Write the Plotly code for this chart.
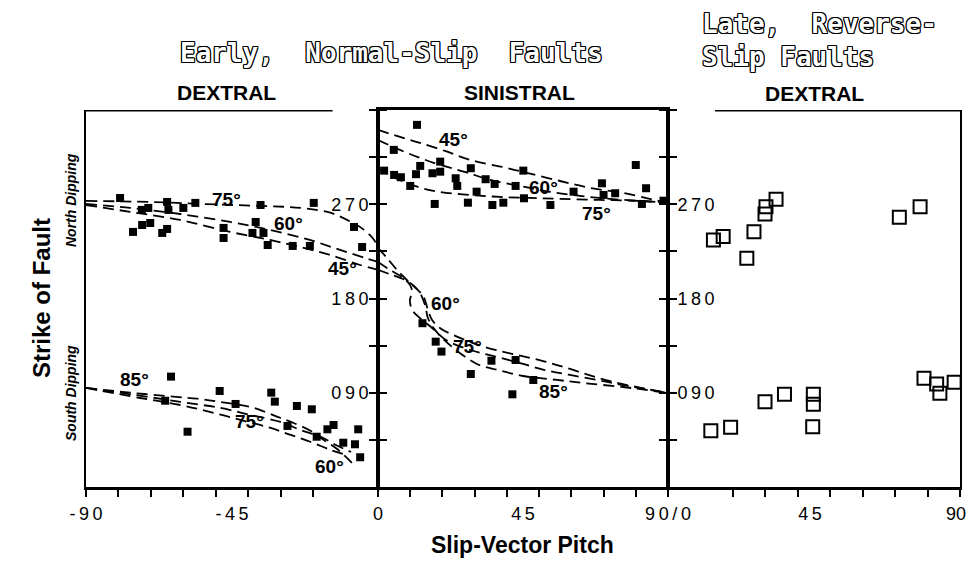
import plotly.graph_objects as go

# ---------------- data ----------------
# Early normal-slip faults, DEXTRAL panel (pitch -90..0)
left_north_x = [-79.5, -72.8, -70.8, -65, -64.6, -60, -56.3, -36.2, -19.8, -75.5, -72.7, -70.2,
                -66.5, -65, -47.6, -47.6, -37.7, -38.7, -35.3, -34, -26.3, -21, -7.4, -4.9]
left_north_y = [276, 264.6, 266.5, 272.2, 264.6, 266.5, 271.3, 269.3, 271.3, 243.6, 250.2, 252.1,
                242.6, 246.4, 247.4, 237.8, 253.1, 242.6, 242.6, 231.1, 230.2, 230.2, 248.3, 229.2]
left_south_x = [-63.8, -58.7, -65.6, -48.8, -43.9, -32.9, -31.8, -25, -20.4, -27.9, -18.9, -15.6,
                -13.7, -10.7, -7.1, -6.1, -5.5]
left_south_y = [105.4, 52.8, 82.4, 91.7, 79.3, 90.1, 81.5, 77.4, 74.2, 58.3, 48, 55.1,
                59.2, 42.3, 40.8, 55.1, 28.4]

# Early normal-slip faults, SINISTRAL panel (pitch 0..90)
mid_north_x = [12.1, 4.9, 1.9, 5.0, 7.1, 10, 11.8, 13.1, 16.9, 19.3, 19.3, 17.6, 24.1, 24.6, 27.9,
               28.8, 30.6, 33.4, 36.2, 35.5, 38.9, 42.7, 45.1, 45.3, 53.5, 60.7, 69.5, 70, 73.6,
               80, 83.2, 81.9, 88.6]
mid_north_y = [345.8, 321.9, 302.1, 298, 295.8, 287.5, 298.7, 306.6, 299.6, 301.1, 310.7, 270.3,
               294.8, 287.5, 271.5, 304.4, 282, 293.9, 289.4, 269.3, 271.5, 287.5, 302.1, 275.7,
               269.3, 282, 290, 278.9, 280.5, 307.5, 285.3, 270.3, 273.4]
mid_south_x = [13.8, 17.9, 19.7, 28.8, 35.2, 42.7, 48.2, 41.7]
mid_south_y = [156.4, 138.8, 129.3, 107.9, 120.6, 121.3, 102.2, 88.5]

# Late reverse-slip faults, DEXTRAL panel (pitch 0..90)
rev_x = [14, 17, 24.3, 26.5, 29.9, 30.2, 33.3, 71.3, 77.7, 13.2, 19.3, 29.9, 35.9, 44.8, 44.8,
         44.6, 78.9, 82.8, 83.8, 88.2]
rev_y = [235.9, 239.1, 218.4, 243.8, 260.7, 267.7, 274.8, 257.6, 267.7, 53.8, 57, 81.5, 88.5,
         88.5, 79, 57.6, 103.8, 98.4, 89.5, 100]

# theoretical curves
cl75_x = [-90, -70.2, -54.7, -36.2, -23.8, -14.5, -8.3, -4.3, -1.2, 0]
cl75_y = [273.2, 272.2, 270.3, 268.4, 266.5, 261.7, 253.1, 245.5, 235.9, 228.3]
cl60_x = [-90, -76.4, -61, -45.6, -33.3, -21, -11.7, -4, 0]
cl60_y = [270.3, 266.5, 260.7, 253.1, 245.5, 235.9, 226.4, 218.7, 214.9]
cl45_x = [-90, -76.4, -61, -45.6, -33.3, -24, -14.8, -5.5, 0]
cl45_y = [269.3, 262.7, 255, 243.6, 235.9, 229.2, 221.6, 212, 207.3]

cs85_x = [-90, -76.4, -63.1, -55.7, -48.6, -39.3, -34, -30, -26, -20.7, -16.7, -13, -9.9, -7.4]
cs85_y = [94.6, 90.1, 86.3, 84.3, 81.2, 76.4, 70.7, 65.9, 61.1, 53.5, 44.9, 37.2, 28.7, 21]
cs75_x = [-90, -74.8, -60.9, -48.6, -39.3, -30, -23.8, -17.6, -13, -8.3]
cs75_y = [94.6, 87.9, 81.2, 75.5, 68.8, 62.1, 54.4, 47.8, 40.1, 33.4]
cs60_x = [-90, -73.3, -60.9, -51.6, -42.4, -33.1, -26.9, -20.7, -14.5, -9.9]
cs60_y = [94.6, 85, 78.3, 71.6, 64, 56.4, 49.7, 43, 35.3, 30.6]

cu45_x = [0, 7.8, 13, 20.8, 28.6, 38.5, 46.2, 56.5, 65.8, 76, 90]
cu45_y = [341, 333.3, 328.6, 320.9, 312.3, 305.6, 299.9, 292.2, 285.6, 280.8, 271]
cu60_x = [0, 6.8, 13, 19.2, 27, 34.8, 44.1, 53.4, 62.7, 72, 81.3, 90]
cu60_y = [331.4, 321.9, 314.3, 307.6, 300.9, 293.2, 287.5, 281.8, 278, 275.1, 273.2, 271.3]
cu75_x = [0, 5.3, 12.4, 19.2, 28.6, 37.9, 47.2, 56.5, 68.9, 81.3, 90]
cu75_y = [304.7, 295.1, 286.5, 281.7, 278.9, 277, 276, 275.1, 274.1, 273.2, 271.3]

cm_a_x = [0, 2.8, 5.9, 9.9, 14, 15.5, 16.8, 19.2, 23.3, 33.2, 51.2, 59.6, 67.3, 75.7, 83.5, 90]
cm_a_y = [228.3, 218.7, 207.3, 194.8, 182.4, 169.1, 159.5, 151.9, 145.2, 133.7, 120.3, 112.7,
          105.1, 98.4, 93.6, 89.8]
cm_b_x = [0, 3.7, 7.4, 9.9, 10.6, 9.9, 10.6, 13, 16.1, 21.1, 28.6, 35.7, 44.1, 51.8, 59.6, 68, 76, 90]
cm_b_y = [214.9, 207.3, 200.6, 193, 186.2, 178.6, 169.1, 161.4, 153.8, 140.4, 130.8, 125.1,
          118.4, 111.7, 107, 102.2, 97.4, 89.8]
cm_c_x = [0, 4.3, 8.4, 12.4, 14.6, 15.5, 17.7, 22.3, 30.7, 37.2, 45, 55.6, 63.6, 76, 90]
cm_c_y = [207.3, 202.5, 197.7, 188.2, 173.8, 161.4, 150, 135.6, 117.5, 111.7, 106, 102.2,
          99.3, 95.5, 89.8]

# dip labels
dip_text = ["75°", "60°", "45°", "85°", "75°", "60°", "45°", "60°", "75°", "60°", "75°", "85°"]
dip_x = [-46.6, -27.5, -11, -74.9, -39.5, -14.8, 23.4, 51.3, 67.7, 21.1, 27.7, 54.6]
dip_y = [274.8, 251.2, 208.9, 102.2, 62.4, 20, 331.4, 285.9, 260.7, 175.5, 134, 91]
dip_ax = ["", "", "", "", "", "", "2", "2", "2", "2", "2", "2"]

y_tickvals = [45, 90, 135, 180, 225, 270, 315, 360]
y_ticktext = ["", "090", "", "180", "", "270", "", "360"]
thin = "\u2009"
def spaced(s):
    return thin.join(list(s))

# ---------------- figure ----------------
# the page body has an 8px margin, so the figure is drawn 8px in from the window corner
OFF = 8
W, H = 974 - 2 * OFF, 567 - 2 * OFF
def fx(px):
    return (px - OFF) / W
def fy(py):
    return 1 - (py - OFF) / H

fig = go.Figure()
dash = dict(color="black", width=1.8, dash="11px,6px")

for cx, cy in [(cl75_x, cl75_y), (cl60_x, cl60_y), (cl45_x, cl45_y),
               (cs85_x, cs85_y), (cs75_x, cs75_y), (cs60_x, cs60_y)]:
    fig.add_trace(go.Scatter(x=cx, y=cy, mode="lines", line=dash, line_shape="spline",
                             xaxis="x", yaxis="y", hoverinfo="skip"))
for cx, cy in [(cu45_x, cu45_y), (cu60_x, cu60_y), (cu75_x, cu75_y),
               (cm_a_x, cm_a_y), (cm_b_x, cm_b_y), (cm_c_x, cm_c_y)]:
    fig.add_trace(go.Scatter(x=cx, y=cy, mode="lines", line=dash, line_shape="spline",
                             xaxis="x2", yaxis="y2", hoverinfo="skip"))

filled = dict(symbol="square", size=8, color="black")
fig.add_trace(go.Scatter(x=left_north_x, y=left_north_y, mode="markers", marker=filled, xaxis="x", yaxis="y"))
fig.add_trace(go.Scatter(x=left_south_x, y=left_south_y, mode="markers", marker=filled, xaxis="x", yaxis="y"))
fig.add_trace(go.Scatter(x=mid_north_x, y=mid_north_y, mode="markers", marker=filled, xaxis="x2", yaxis="y2"))
fig.add_trace(go.Scatter(x=mid_south_x, y=mid_south_y, mode="markers", marker=filled, xaxis="x2", yaxis="y2"))
fig.add_trace(go.Scatter(x=rev_x, y=rev_y, mode="markers",
                         marker=dict(symbol="square-open", size=13, color="black", line=dict(width=2)),
                         xaxis="x3", yaxis="y3", cliponaxis=False))

tickfont = dict(family="Liberation Sans", size=18, color="black")
ydom = [fy(487), fy(110)]
minor_common = dict(ticks="outside", ticklen=7, tickwidth=2, tickcolor="black")

xcommon = dict(showgrid=False, zeroline=False, showline=True, linecolor="black", linewidth=3,
               ticks="outside", ticklen=0, tickfont=tickfont, ticklabelstandoff=8,
               automargin=False)
ycommon = dict(range=[0, 360], domain=ydom, showgrid=False, zeroline=False, showline=True,
               linecolor="black", tickvals=y_tickvals, ticktext=[spaced(t) for t in y_ticktext],
               ticks="outside", ticklen=7, tickwidth=2, tickcolor="black", tickfont=tickfont,
               automargin=False, ticklabelstandoff=10)

fig.update_layout(
    width=W, height=H, margin=dict(l=0, r=0, t=0, b=0, pad=0, autoexpand=False),
    paper_bgcolor="white", plot_bgcolor="white", showlegend=False,
    xaxis=dict(xcommon, domain=[fx(86), fx(378)], range=[-90, 0], anchor="y",
               tickvals=[-90, -45], ticktext=[spaced("-90"), spaced("-45")],
               minor=dict(minor_common, tickvals=list(range(-90, 1, 10)))),
    xaxis2=dict(xcommon, domain=[fx(378), fx(668)], range=[0, 90], anchor="y2", mirror=True,
                tickvals=[0, 45, 90], ticktext=["0", spaced("45"), spaced("90/0")],
                minor=dict(minor_common, tickvals=list(range(0, 91, 10)))),
    xaxis3=dict(xcommon, domain=[fx(668), fx(960)], range=[0, 90], anchor="y3",
                tickvals=[45, 90], ticktext=[spaced("45"), "90"],
                ticklabelshift=-4, ticklabeloverflow="allow",
                minor=dict(minor_common, tickvals=list(range(0, 91, 10)))),
    yaxis=dict(ycommon, anchor="x", side="right", ticklabelposition="inside",
               linewidth=2, mirror=True),
    yaxis2=dict(ycommon, anchor="x2", side="left", showticklabels=False,
                linewidth=2, mirror="ticks"),
    yaxis3=dict(ycommon, anchor="x3", side="left", ticklabelposition="inside",
                linewidth=2, mirror=True),
)

# top frame segments interrupted by the 360 labels
fig.add_shape(type="line", xref="x", yref="y", x0=-90, x1=-14, y0=360, y1=360,
              line=dict(color="black", width=3))
fig.add_shape(type="line", xref="x3", yref="y3", x0=14.5, x1=90, y0=360, y1=360,
              line=dict(color="black", width=3))

# dip-angle labels
for t, x, y, a in zip(dip_text, dip_x, dip_y, dip_ax):
    fig.add_annotation(text=t, x=x, y=y, xref="x" + a, yref="y" + a, showarrow=False,
                       font=dict(family="Liberation Sans", size=19, color="black", weight="bold"))

bold = dict(family="Liberation Sans", color="black", weight="bold")
outline = dict(family="DejaVu Sans Mono", size=26, color="white", weight="bold",
               shadow="1px 0 0 #000, -1px 0 0 #000, 0 1px 0 #000, 0 -1px 0 #000, "
                      "1px 1px 0 #000, -1px -1px 0 #000, 1px -1px 0 #000, -1px 1px 0 #000")

ann = [
    dict(text="Strike of Fault", x=fx(41), y=fy(298), textangle=-90, font=dict(bold, size=24)),
    dict(text="<i>North Dipping</i>", x=fx(71), y=fy(200), textangle=-90, font=dict(bold, size=14)),
    dict(text="<i>South Dipping</i>", x=fx(71), y=fy(393), textangle=-90, font=dict(bold, size=14)),
    dict(text="Slip-Vector Pitch", x=fx(522), y=fy(545), font=dict(bold, size=23)),
    dict(text="DEXTRAL", x=fx(226), y=fy(92), font=dict(bold, size=21)),
    dict(text="SINISTRAL", x=fx(520), y=fy(92), font=dict(bold, size=21)),
    dict(text="DEXTRAL", x=fx(814), y=fy(93), font=dict(bold, size=21)),
    dict(text="Early,  Normal-Slip  Faults", x=fx(391), y=fy(53), font=outline),
    dict(text="Late,  Reverse-", x=fx(700), y=fy(24), xanchor="left", font=outline),
    dict(text="Slip Faults", x=fx(700), y=fy(57), xanchor="left", font=outline),
]
for a in ann:
    a.setdefault("xanchor", "center")
    fig.add_annotation(xref="paper", yref="paper", showarrow=False, yanchor="middle", **a)

fig.write_html("out.html")
